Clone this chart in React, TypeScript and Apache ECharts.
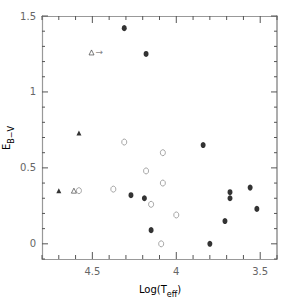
import React, { useEffect, useRef } from "react";
import * as echarts from "echarts";

// Axis ticks and labels
const xTickValues = [3.4, 3.5, 3.6, 3.7, 3.8, 3.9, 4.0, 4.1, 4.2, 4.3, 4.4, 4.5, 4.6, 4.7, 4.8];
const xMajorTicks = [3.5, 4.0, 4.5];
const xTickLabels = [3.5, 4.0, 4.5];
const yTickValues = [-0.1, 0, 0.1, 0.2, 0.3, 0.4, 0.5, 0.6, 0.7, 0.8, 0.9, 1.0, 1.1, 1.2, 1.3, 1.4, 1.5];
const yMajorTicks = [0, 0.5, 1.0, 1.5];
const yTickLabels = [0, 0.5, 1.0, 1.5];

// Data: [log(Teff), E(B-V)]
const filledCircles = [
  [4.31, 1.42], [4.18, 1.25], [3.84, 0.65], [4.27, 0.32], [4.19, 0.30], [4.15, 0.09],
  [3.80, 0.0], [3.71, 0.15], [3.68, 0.34], [3.68, 0.30], [3.56, 0.37], [3.52, 0.23],
];
const openCircles = [
  [4.31, 0.67], [4.08, 0.60], [4.18, 0.48], [4.08, 0.40], [4.375, 0.36], [4.58, 0.35],
  [4.15, 0.26], [4.00, 0.19], [4.09, 0.0],
];
const openTriangles = [[4.505, 1.26], [4.61, 0.35]];
const filledTriangles = [[4.58, 0.73], [4.70, 0.35]];
const arrowPointIndex = 0;

const X_MIN = 3.4;
const X_MAX = 4.8;
const Y_MIN = -0.1;
const Y_MAX = 1.5;

const FONT = "DejaVu Sans";
const TEXT_COLOR = "#666";
const TICK_COLOR = "#555";
const AXIS_COLOR = "#999";

const isIn = (v: number, list: number[]) => list.some((t) => Math.abs(t - v) < 1e-6);

export default function App() {
  const ref = useRef<HTMLDivElement>(null);
  useEffect(() => {
    document.body.style.margin = "0";
    if (!ref.current) return;
    const chart = echarts.init(ref.current, undefined, { renderer: "svg" });
    const rich = {
      a: { fontSize: 10, color: TEXT_COLOR, fontFamily: FONT, verticalAlign: "top", lineHeight: 14 },
      s: { fontSize: 8, color: TEXT_COLOR, fontFamily: FONT, verticalAlign: "bottom", lineHeight: 14 },
    };
    const tickStyle = { stroke: TICK_COLOR, lineWidth: 1 };

    chart.setOption({
      animation: false,
      backgroundColor: "#fff",
      grid: { left: 42, right: 23, top: 16, bottom: 41, containLabel: false, outerBoundsMode: "none" },
      graphic: [
        {
          type: "text",
          x: 160,
          y: 291,
          style: { text: "{a|Log(T}{s|eff}{a|)}", rich, align: "center", verticalAlign: "middle" },
        },
        {
          type: "text",
          x: 8,
          y: 138,
          rotation: Math.PI / 2,
          style: { text: "{a|E}{s|B−V}", rich, align: "center", verticalAlign: "middle" },
        },
      ],
      xAxis: [
        {
          type: "value", min: X_MIN, max: X_MAX, interval: 0.1, inverse: true, splitLine: { show: false }, position: "bottom",
          axisLine: { show: true, onZero: false, lineStyle: { color: AXIS_COLOR, width: 1.2 } },
          axisTick: { show: false },
          axisLabel: {
            formatter: (v: number) => (isIn(v, xTickLabels) ? String(+v.toFixed(1)) : ""),
            color: TEXT_COLOR, fontFamily: FONT, fontSize: 10, margin: 7,
          },
        },
        {
          type: "value", min: X_MIN, max: X_MAX, interval: 0.1, inverse: true, splitLine: { show: false }, position: "top",
          axisLine: { show: true, onZero: false, lineStyle: { color: AXIS_COLOR, width: 1.2 } },
          axisTick: { show: false },
          axisLabel: { show: false },
        },
      ],
      yAxis: [
        {
          type: "value", min: Y_MIN, max: Y_MAX, interval: 0.1, splitLine: { show: false }, position: "left",
          axisLine: { show: true, onZero: false, lineStyle: { color: AXIS_COLOR, width: 1.2 } },
          axisTick: { show: false },
          axisLabel: {
            formatter: (v: number) => (isIn(v, yTickLabels) ? String(+v.toFixed(1)) : ""),
            color: TEXT_COLOR, fontFamily: FONT, fontSize: 10, margin: 6,
          },
        },
        {
          type: "value", min: Y_MIN, max: Y_MAX, interval: 0.1, splitLine: { show: false }, position: "right",
          axisLine: { show: true, onZero: false, lineStyle: { color: AXIS_COLOR, width: 1.6 } },
          axisTick: { show: false },
          axisLabel: { show: false },
        },
      ],
      series: [
        // x-axis ticks (bottom and top), drawn through the axis scale
        {
          type: "custom",
          silent: true,
          data: xTickValues.map((v) => [v, Y_MIN]),
          renderItem: (_params: any, api: any) => {
            const v = api.value(0);
            const len = isIn(v, xMajorTicks) ? 7 : 4;
            const b = api.coord([v, Y_MIN]);
            const t = api.coord([v, Y_MAX]);
            return {
              type: "group",
              children: [
                { type: "line", shape: { x1: b[0], y1: b[1], x2: b[0], y2: b[1] - len }, style: tickStyle },
                { type: "line", shape: { x1: t[0], y1: t[1], x2: t[0], y2: t[1] + len }, style: tickStyle },
              ],
            };
          },
        },
        // y-axis ticks (left and right)
        {
          type: "custom",
          silent: true,
          data: yTickValues.map((v) => [X_MAX, v]),
          renderItem: (_params: any, api: any) => {
            const v = api.value(1);
            const len = isIn(v, yMajorTicks) ? 6 : 3;
            const l = api.coord([X_MAX, v]);
            const r = api.coord([X_MIN, v]);
            return {
              type: "group",
              children: [
                { type: "line", shape: { x1: l[0], y1: l[1], x2: l[0] + len, y2: l[1] }, style: tickStyle },
                { type: "line", shape: { x1: r[0], y1: r[1], x2: r[0] - len, y2: r[1] }, style: tickStyle },
              ],
            };
          },
        },
        {
          type: "scatter",
          data: filledCircles,
          symbol: "circle",
          symbolSize: [5, 6],
          itemStyle: { color: "#000" },
        },
        {
          type: "scatter",
          data: openCircles,
          symbol: "circle",
          symbolSize: [5, 6],
          itemStyle: { color: "#fff", borderColor: "#777", borderWidth: 0.8 },
        },
        {
          type: "scatter",
          data: openTriangles.map((p, i) =>
            i === arrowPointIndex
              ? {
                  value: p,
                  label: {
                    show: true,
                    formatter: "→",
                    position: "right",
                    distance: 1,
                    fontSize: 9,
                    color: TEXT_COLOR,
                    fontFamily: FONT,
                  },
                }
              : { value: p }
          ),
          symbol: "triangle",
          symbolSize: 5,
          itemStyle: { color: "#fff", borderColor: "#333", borderWidth: 0.8 },
        },
        {
          type: "scatter",
          data: filledTriangles,
          symbol: "triangle",
          symbolSize: 5,
          itemStyle: { color: "#000" },
        },
      ],
    });
    return () => chart.dispose();
  }, []);
  return <div ref={ref} style={{ width: 300, height: 300 }} />;
}
